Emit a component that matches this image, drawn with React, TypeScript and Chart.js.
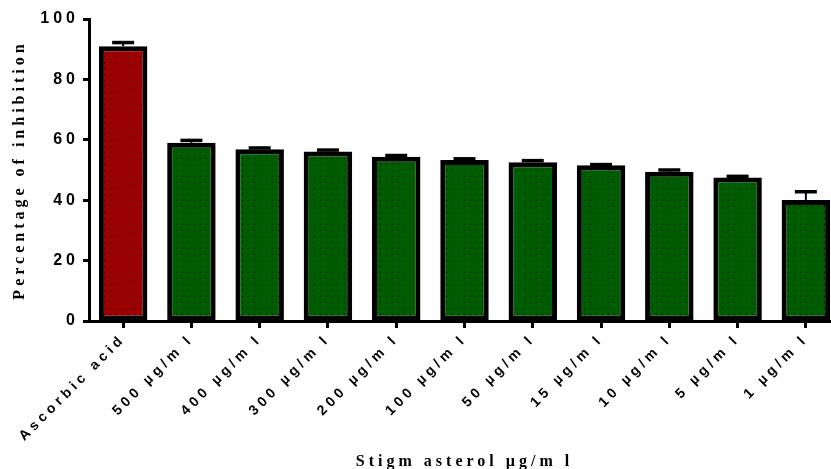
import React, { useEffect, useRef } from 'react';
import { Chart, registerables } from 'chart.js';
Chart.register(...registerables);

const categories = [
  'Ascorbic acid',
  '500 µg/m l',
  '400 µg/m l',
  '300 µg/m l',
  '200 µg/m l',
  '100 µg/m l',
  '50 µg/m l',
  '15 µg/m l',
  '10 µg/m l',
  '5 µg/m l',
  '1 µg/m l',
];
const values = [91.0, 59.0, 56.9, 56.1, 54.4, 53.3, 52.6, 51.6, 49.4, 47.5, 40.1];
const errors = [1.2, 0.8, 0.4, 0.5, 0.4, 0.4, 0.5, 0.2, 0.6, 0.4, 2.7];
const yTicks = [0, 20, 40, 60, 80, 100];
const yTitle = 'Percentage of inhibition';
const xTitle = 'Stigm asterol µg/m l';

function makePattern(color: string) {
  const c = document.createElement('canvas');
  c.width = 6;
  c.height = 6;
  const x = c.getContext('2d')!;
  x.fillStyle = color;
  x.fillRect(0, 0, 6, 6);
  x.fillStyle = 'rgba(0,0,0,0.8)';
  x.fillRect(2, 2, 1, 1);
  return x.createPattern(c, 'repeat');
}

const spacingPlugin = {
  id: 'spacing',
  beforeUpdate(chart: any) {
    chart.ctx.letterSpacing = '4px';
  },
  beforeLayout(chart: any) {
    chart.ctx.letterSpacing = '4px';
  },
  beforeDraw(chart: any) {
    chart.ctx.letterSpacing = '4px';
  },
};

const errorBarPlugin = {
  id: 'errorBars',
  afterDatasetsDraw(chart: any) {
    const ctx = chart.ctx;
    const meta = chart.getDatasetMeta(0);
    const y = chart.scales.y;
    meta.data.forEach((bar: any, i: number) => {
      const x = bar.x;
      const base = y.getPixelForValue(values[i]);
      const top = y.getPixelForValue(values[i] + errors[i]);
      ctx.save();
      ctx.strokeStyle = '#000';
      ctx.lineWidth = 2;
      ctx.beginPath();
      ctx.moveTo(x, base);
      ctx.lineTo(x, top);
      ctx.stroke();
      ctx.lineWidth = 3.5;
      ctx.beginPath();
      ctx.moveTo(x - 11, top);
      ctx.lineTo(x + 11, top);
      ctx.stroke();
      ctx.restore();
    });
  },
};

export default function App() {
  const ref = useRef<HTMLCanvasElement>(null);
  useEffect(() => {
    const red = makePattern('#9c0000');
    const green = makePattern('#005c00');
    const chart = new Chart(ref.current!, {
      type: 'bar',
      data: {
        labels: categories,
        datasets: [
          {
            data: values,
            backgroundColor: values.map((_, i) => (i === 0 ? red : green)) as any,
            borderColor: '#000',
            borderWidth: 5,
            borderSkipped: false,
            categoryPercentage: 1,
            barPercentage: 0.71,
          },
        ],
      },
      options: {
        responsive: false,
        animation: false,
        devicePixelRatio: 1,
        layout: { padding: { top: 19, right: 10, left: 0, bottom: 0 } },
        plugins: { legend: { display: false }, tooltip: { enabled: false } },
        scales: {
          x: {
            type: 'category',
            offset: true,
            grid: {
              display: true,
              offset: false,
              drawOnChartArea: false,
              drawTicks: true,
              tickLength: 7,
              tickWidth: 3,
              tickColor: '#000',
            },
            border: { display: true, color: '#000', width: 3 },
            ticks: {
              autoSkip: false,
              maxRotation: 45,
              minRotation: 45,
              color: '#000',
              padding: 3,
              font: { family: 'Liberation Sans, Arial', weight: 'bold', size: 14 },
            },
            title: {
              display: true,
              text: xTitle,
              color: '#000',
              padding: { top: 0, bottom: -2 },
              font: { family: 'Liberation Serif, Times New Roman', weight: 'bold', size: 16 },
            },
            afterFit: (s: any) => {
              s.height = 148;
            },
          },
          y: {
            min: 0,
            max: 100,
            afterBuildTicks: (s: any) => {
              s.ticks = yTicks.map((v) => ({ value: v }));
            },
            grid: {
              display: true,
              drawOnChartArea: false,
              drawTicks: true,
              tickLength: 6,
              tickWidth: 3,
              tickColor: '#000',
            },
            border: { display: true, color: '#000', width: 3 },
            ticks: {
              color: '#000',
              padding: 4,
              font: { family: 'Liberation Sans, Arial', weight: 'bold', size: 16 },
            },
            title: {
              display: true,
              text: yTitle,
              color: '#000',
              padding: { top: 10, bottom: 0 },
              font: { family: 'Liberation Serif, Times New Roman', weight: 'bold', size: 16 },
            },
            afterFit: (s: any) => {
              s.width = 89;
            },
          },
        },
      },
      plugins: [spacingPlugin, errorBarPlugin],
    });
    return () => chart.destroy();
  }, []);
  return (
    <div
      style={{
        position: 'fixed',
        left: 0,
        top: 0,
        width: 831,
        height: 469,
        overflow: 'hidden',
        background: '#fff',
      }}
    >
      <canvas ref={ref} width={850} height={469} style={{ display: 'block' }} />
    </div>
  );
}
